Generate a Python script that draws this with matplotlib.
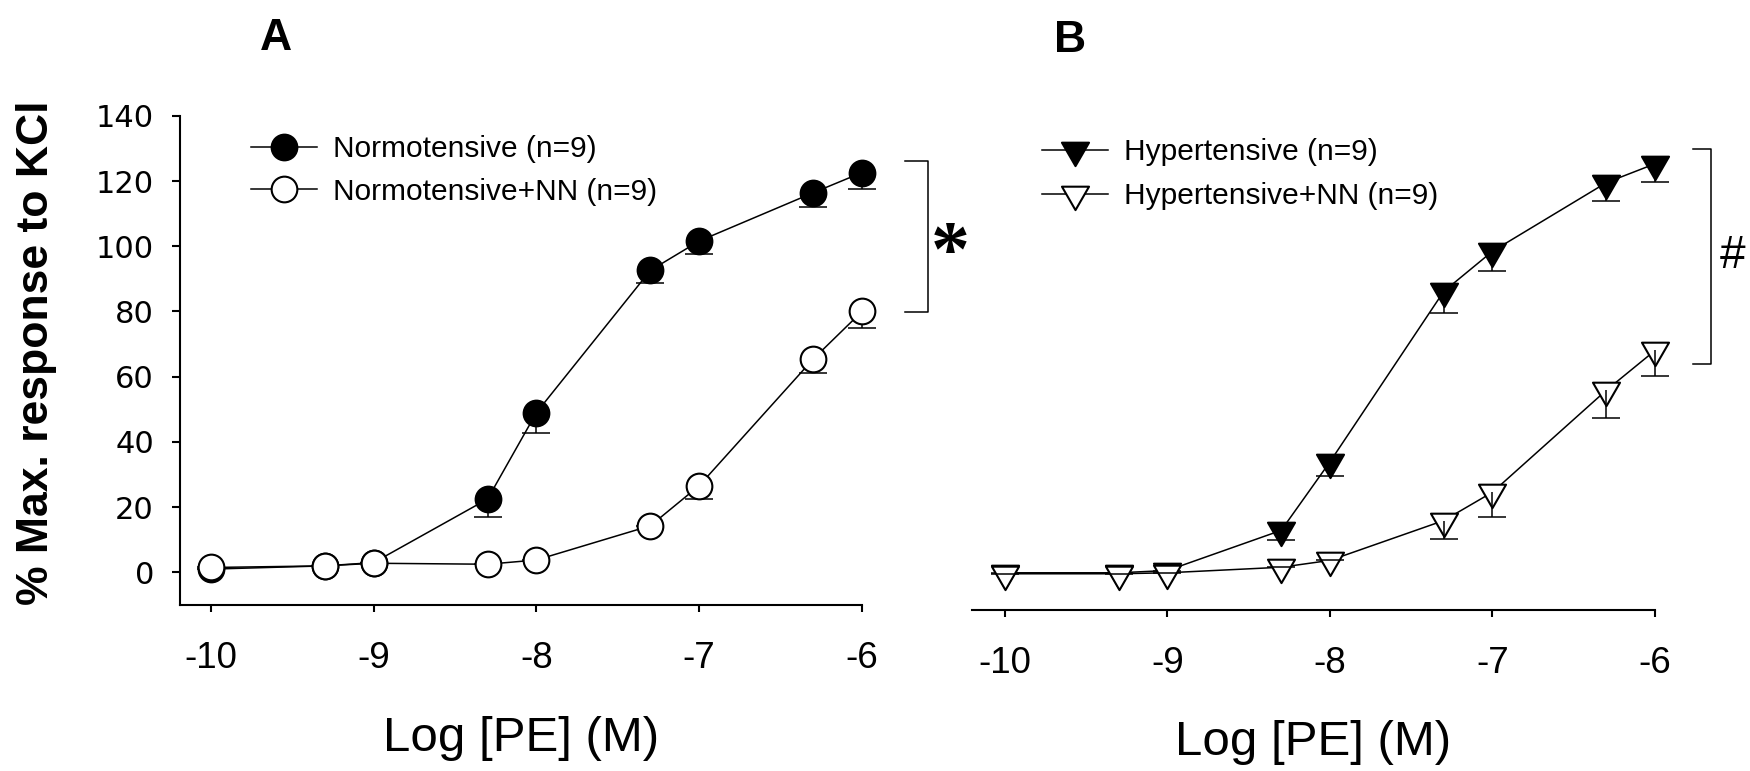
import matplotlib
matplotlib.use("Agg")
import matplotlib.pyplot as plt
from matplotlib.path import Path
import numpy as np

# ---------------- data ----------------
log_pe = [-10, -9.3, -9, -8.3, -8, -7.3, -7, -6.3, -6]
x_ticks = [-10, -9, -8, -7, -6]
y_ticks = [0, 20, 40, 60, 80, 100, 120, 140]

normo = [1.0, 2.0, 3.0, 22.5, 49.0, 92.6, 101.6, 116.4, 122.6]
normo_err = [0, 0, 0, 5.5, 6.3, 4.0, 4.0, 4.5, 5.0]
normo_nn = [1.5, 2.0, 2.8, 2.5, 3.8, 14.3, 26.6, 65.4, 80.0]
normo_nn_err = [0, 0, 0, 0, 0, 0, 4.0, 4.4, 5.0]

hyper = [0.0, 0.0, 0.7, 13.0, 34.0, 86.2, 98.5, 119.5, 125.3]
hyper_err = [0, 0, 0, 3.0, 4.5, 6.7, 6.0, 5.6, 5.6]
hyper_nn = [-0.3, -0.3, 0.0, 1.7, 3.8, 16.0, 24.7, 55.9, 68.1]
hyper_nn_err = [0, 0, 0, 0, 0, 5.6, 7.5, 8.4, 7.9]

labels_A = ["Normotensive (n=9)", "Normotensive+NN (n=9)"]
labels_B = ["Hypertensive (n=9)", "Hypertensive+NN (n=9)"]
bracket_A = [79.8, 126.2]
bracket_B = [64.1, 129.8]
sig_A = "*"
sig_B = "#"

# ---------------- style ----------------
W, H = 1750, 771
fig = plt.figure(figsize=(W / 100, H / 100), dpi=100)

SANS = "Liberation Sans"
LW = 1.1
AX_LW = 1.5
CIRCLE_MS = 18.5
TRI_MS = 22.5
CAP = 10

tri_path = Path([(-0.5, 0.2887), (0.5, 0.2887), (0.0, -0.5774), (-0.5, 0.2887)],
                [Path.MOVETO, Path.LINETO, Path.LINETO, Path.CLOSEPOLY])

axA = fig.add_axes([180 / W, 166 / H, 682 / W, 489.2 / H])
axB = fig.add_axes([972 / W, 161 / H, 683 / W, 494.2 / H])


def series(ax, y, err, marker, ms, filled, z, err_on_top):
    line, = ax.plot(log_pe, y, color="black", lw=LW, marker=marker, ms=ms,
                    mfc="black" if filled else "white", mec="black", mew=1.5,
                    zorder=z, clip_on=False)
    ez = z + 0.5 if err_on_top else z - 1.5
    lower = np.array(err, dtype=float)
    eb = ax.errorbar(log_pe, y, yerr=[lower, np.zeros_like(lower)], fmt="none",
                     ecolor="black", elinewidth=LW, capsize=CAP, capthick=LW,
                     zorder=ez)
    caps = eb[1]
    if len(caps) > 1:
        caps[1].set_visible(False)
    for c in caps:
        c.set_clip_on(False)
    for lc in eb[2]:
        lc.set_clip_on(False)
    return line


# Panel A
lA1 = series(axA, normo, normo_err, "o", CIRCLE_MS, True, 3, False)
lA2 = series(axA, normo_nn, normo_nn_err, "o", CIRCLE_MS, False, 5, False)
# Panel B
lB1 = series(axB, hyper, hyper_err, tri_path, TRI_MS, True, 3, True)
lB2 = series(axB, hyper_nn, hyper_nn_err, tri_path, TRI_MS, False, 5, True)

axA.set_xlim(-10.19, -6)
axA.set_ylim(-10, 140)
axB.set_xlim(-10.203, -6)
axB.set_ylim(-11.4, 140)

for ax in (axA, axB):
    ax.set_xticks(x_ticks)
    ax.set_xticklabels([str(t) for t in x_ticks], fontfamily=SANS, fontsize=26.5)
    ax.tick_params(axis="x", direction="out", length=5, width=AX_LW, pad=21)
    for s in ("top", "right"):
        ax.spines[s].set_visible(False)
    ax.spines["bottom"].set_linewidth(AX_LW)
    ax.set_xlabel("Log [PE] (M)", fontfamily=SANS, fontsize=35.5, va="top")
    ax.patch.set_visible(False)

axA.xaxis.set_label_coords(0.5, -0.226)
axB.xaxis.set_label_coords(0.5, -0.222)

axA.spines["left"].set_linewidth(AX_LW)
axA.set_yticks(y_ticks)
axA.set_yticklabels([str(t) for t in y_ticks], fontfamily="DejaVu Sans", fontsize=22)
axA.tick_params(axis="y", direction="out", length=5.8, width=AX_LW, pad=13)
axA.set_ylabel("% Max. response to KCl", fontfamily=SANS, fontweight="bold",
               fontsize=32)
axA.yaxis.set_label_coords(-0.180, 0.515)

axB.spines["left"].set_visible(False)
axB.set_yticks([])

# Legends
legA = axA.legend([lA1, lA2], labels_A, loc="upper left",
                  bbox_to_anchor=(251 / W, 636 / H), bbox_transform=fig.transFigure,
                  frameon=False, borderpad=0, borderaxespad=0, handlelength=2.2,
                  handletextpad=0.55, labelspacing=0.5, numpoints=1,
                  prop={"family": SANS, "size": 21.5})
legB = axB.legend([lB1, lB2], labels_B, loc="upper left",
                  bbox_to_anchor=(1042 / W, 633 / H), bbox_transform=fig.transFigure,
                  frameon=False, borderpad=0, borderaxespad=0, handlelength=2.2,
                  handletextpad=0.55, labelspacing=0.55, numpoints=1,
                  prop={"family": SANS, "size": 21.5})

# Significance brackets
def bracket(ax, xv, xc, lo, hi, sym, xs, ys, fam, fs, weight, va):
    ax.plot([xc, xv, xv, xc], [hi, hi, lo, lo], color="black", lw=LW, clip_on=False)
    ax.text(xs, ys, sym, ha="center", va=va, fontsize=fs,
            fontfamily=fam, fontweight=weight)

bracket(axA, -5.594, -5.736, bracket_A[0], bracket_A[1], sig_A, -5.46,
        91.5, "Liberation Serif", 56, "bold", "baseline")
bracket(axB, -5.656, -5.766, bracket_B[0], bracket_B[1], sig_B, -5.52,
        (bracket_B[0] + bracket_B[1]) / 2, SANS, 33, "normal", "center")

# Panel letters
fig.text(276 / W, (H - 50) / H, "A", ha="center", va="baseline", fontsize=32,
         fontweight="bold", fontfamily=SANS)
fig.text(1070 / W, (H - 52) / H, "B", ha="center", va="baseline", fontsize=32,
         fontweight="bold", fontfamily=SANS)

fig.savefig("out.png", dpi=100, facecolor="white")
